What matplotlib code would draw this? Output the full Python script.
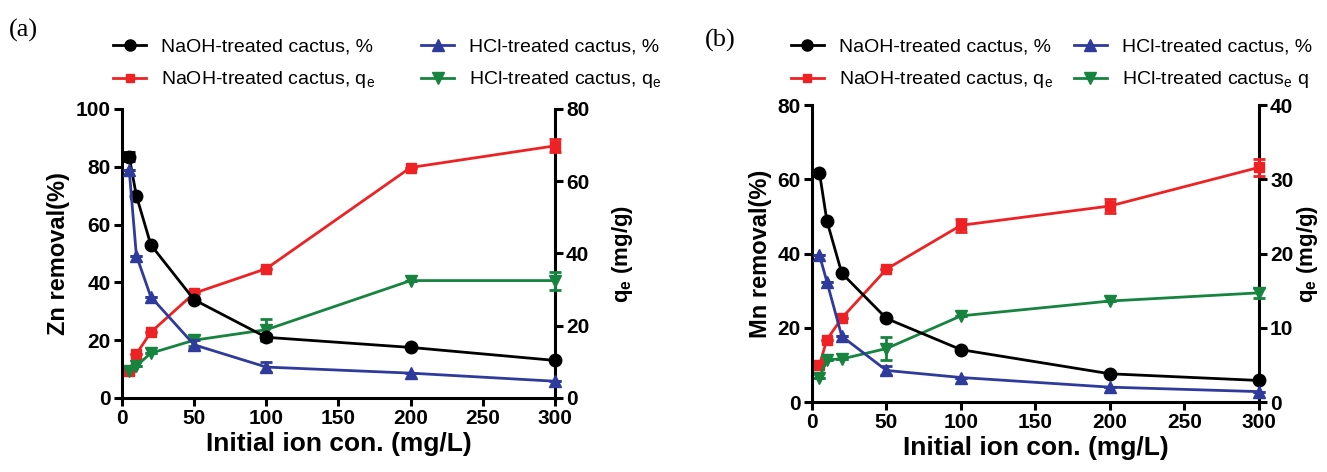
import numpy as np
import matplotlib
matplotlib.use("Agg")
from matplotlib import pyplot as plt
from matplotlib.lines import Line2D

plt.rcParams['font.family'] = ['Liberation Sans', 'DejaVu Sans']
plt.rcParams['mathtext.fontset'] = 'custom'
plt.rcParams['mathtext.rm'] = 'Liberation Sans'
plt.rcParams['mathtext.bf'] = 'Liberation Sans:bold'

conc = [5, 10, 20, 50, 100, 200, 300]

# (a) Zn
zn_naoh_pct = [83.5, 70, 53, 34, 21, 17.5, 13]
zn_naoh_pct_err = [1.5, 0, 0, 0, 0.8, 0, 0]
zn_hcl_pct = [79, 49.3, 35, 18.4, 10.7, 8.6, 5.8]
zn_hcl_pct_err = [0, 0, 0, 1.5, 1.8, 0, 0]
zn_naoh_q = [7.4, 12.2, 18.2, 29, 35.8, 63.8, 69.8]
zn_naoh_q_err = [0, 0, 0, 0, 0, 0, 1.8]
zn_hcl_q = [7.6, 8.9, 12.4, 16, 18.9, 32.5, 32.5]
zn_hcl_q_err = [0, 0, 0, 1.5, 3, 0, 2.5]

# (b) Mn
mn_naoh_pct = [61.8, 48.8, 34.7, 22.5, 14.1, 7.6, 5.8]
mn_naoh_pct_err = [0, 0, 0, 0, 0, 0, 0]
mn_hcl_pct = [39.6, 32.4, 17.7, 8.5, 6.6, 4.0, 2.8]
mn_hcl_pct_err = [0, 0, 0, 1.2, 0, 0, 0]
mn_naoh_q = [5.0, 8.4, 11.3, 17.9, 23.8, 26.4, 31.6]
mn_naoh_q_err = [0, 0, 0, 0, 0.9, 0.9, 1.1]
mn_hcl_q = [3.3, 5.7, 5.8, 7.2, 11.6, 13.6, 14.7]
mn_hcl_q_err = [0, 0, 0, 1.5, 0, 0, 0.7]

black = '#000000'
red = '#ee2224'
blue = '#2e3b9b'
green = '#16843f'

fig = plt.figure(figsize=(13.27, 4.72), dpi=100)


def panel(rect, pct1, e1, pct2, e2, q1, qe1, q2, qe2, ylim1, ystep1, ylim2, ystep2,
          ylabel, green_label, letter, letter_xy, leg_anchor, colspace, rpad):
    ax = fig.add_axes(rect)
    ax2 = ax.twinx()
    kw = dict(lw=2, elinewidth=2, capsize=4, capthick=2, clip_on=False, zorder=3)
    ax.errorbar(conc, pct1, yerr=e1, color=black, marker='o', ms=9, **kw)
    ax.errorbar(conc, pct2, yerr=e2, color=blue, marker='^', ms=9, **kw)
    ax2.errorbar(conc, q1, yerr=qe1, color=red, marker='s', ms=7, **kw)
    ax2.errorbar(conc, q2, yerr=qe2, color=green, marker='v', ms=9, **kw)
    ax.set_zorder(ax2.get_zorder() + 1)
    ax.patch.set_visible(False)

    ax.set_xlim(0, 300)
    ax.set_ylim(0, ylim1)
    ax2.set_ylim(0, ylim2)
    ax.set_xticks(np.arange(0, 301, 50))
    ax.set_yticks(np.arange(0, ylim1 + 1, ystep1))
    ax2.set_yticks(np.arange(0, ylim2 + 1, ystep2))
    for a in (ax, ax2):
        a.spines['top'].set_visible(False)
        for s in ('left', 'right', 'bottom'):
            a.spines[s].set_linewidth(2.2)
        a.tick_params(width=2.2, length=6, labelsize=15, direction='out', pad=2)
        for t in a.get_xticklabels() + a.get_yticklabels():
            t.set_fontweight('bold')
    ax.spines['right'].set_visible(False)
    ax2.spines['left'].set_visible(False)
    ax2.spines['bottom'].set_visible(False)

    ax.set_xlabel('Initial ion con. (mg/L)', fontsize=19, fontweight='bold', labelpad=3)
    ax.set_ylabel(ylabel, fontsize=17, fontweight='bold', labelpad=4)
    ax2.set_ylabel('q$_\\mathbf{e}$ (mg/g)', fontsize=16, fontweight='bold', labelpad=rpad)

    fig.text(letter_xy[0], letter_xy[1], letter, fontsize=19, family='Liberation Serif',
             ha='left', va='center')

    handles = [Line2D([], [], color=black, lw=2, marker='o', ms=8),
               Line2D([], [], color=red, lw=2, marker='s', ms=6),
               Line2D([], [], color=blue, lw=2, marker='^', ms=8),
               Line2D([], [], color=green, lw=2, marker='v', ms=8)]
    labels = ['NaOH-treated cactus, %', 'NaOH-treated cactus, q$_\\mathrm{e}$',
              'HCl-treated cactus, %', green_label]
    fig.legend(handles, labels, ncol=2, loc='upper left', bbox_to_anchor=leg_anchor,
               frameon=False, fontsize=14, handlelength=1.7, columnspacing=colspace,
               labelspacing=0.72, handletextpad=0.75, borderpad=0, borderaxespad=0)


panel([0.0919, 0.1568, 0.3263, 0.6123],
      zn_naoh_pct, zn_naoh_pct_err, zn_hcl_pct, zn_hcl_pct_err,
      zn_naoh_q, zn_naoh_q_err, zn_hcl_q, zn_hcl_q_err,
      100, 20, 80, 20, 'Zn removal(%)', 'HCl-treated cactus, q$_\\mathrm{e}$',
      '(a)', (0.007, 0.935), (0.0852, 0.92), 2.4, 15)

panel([0.6119, 0.1483, 0.3368, 0.6292],
      mn_naoh_pct, mn_naoh_pct_err, mn_hcl_pct, mn_hcl_pct_err,
      mn_naoh_q, mn_naoh_q_err, mn_hcl_q, mn_hcl_q_err,
      80, 20, 40, 10, 'Mn removal(%)', 'HCl-treated cactus$_\\mathrm{e}$ q',
      '(b)', (0.531, 0.915), (0.596, 0.92), 1.1, 1)

fig.savefig('out.png', dpi=100)
